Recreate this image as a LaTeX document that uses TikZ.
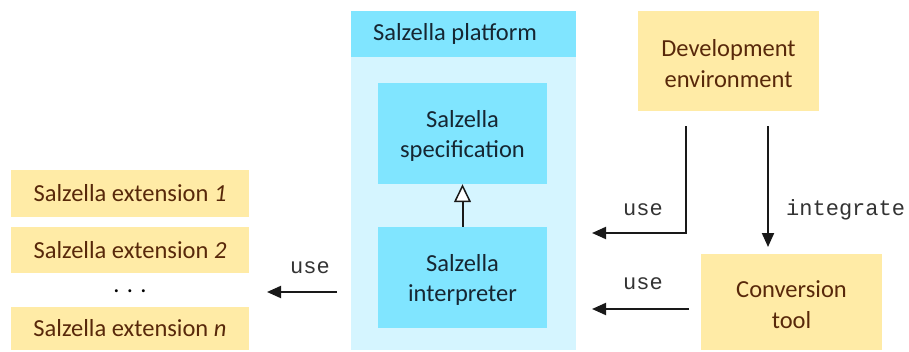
\documentclass[tikz,border=0pt]{standalone}
\usepackage{fontspec}
\setmainfont{Carlito}
\setmonofont{Liberation Mono}
\usetikzlibrary{arrows.meta,calc}
\definecolor{sandfill}{RGB}{255,235,166}
\definecolor{sandtext}{RGB}{88,40,10}
\definecolor{cyanhead}{RGB}{128,229,255}
\definecolor{cyanbody}{RGB}{213,245,255}
\definecolor{cyantext}{RGB}{22,38,50}
\tikzset{
  sandbox/.style={rectangle, fill=sandfill, text=sandtext, inner sep=0pt,
    align=center, font=\fontsize{24.5}{27}\selectfont},
  cyanbox/.style={rectangle, fill=cyanhead, text=cyantext, inner sep=0pt,
    align=center, font=\fontsize{24.5}{30}\selectfont},
  % two-line captions set slightly below the box centre
  sandcap/.style={label={[align=center, inner sep=0pt, yshift=-2.5pt, text=sandtext,
    font=\fontsize{24.5}{31}\selectfont]center:#1}},
  cyancap/.style={label={[align=center, inner sep=0pt, yshift=-2.5pt, text=cyantext,
    font=\fontsize{24.5}{30.5}\selectfont]center:#1}},
  lbl/.style={font=\ttfamily\fontsize{22}{24}\selectfont, text=black!80, inner sep=0pt},
  flow/.style={draw=black!90, line width=2pt, -{Triangle[length=14pt,width=12pt]}},
  inherit/.style={draw=black!90, line width=2pt, -{Triangle[open,length=18pt,width=17pt,fill=white,line width=1.5pt]}},
}
\begin{document}
\begin{tikzpicture}[x=1pt,y=-1pt]
\useasboundingbox (0,0) rectangle (909,351);

% platform container with its header band
\fill[cyanbody] (351,11) rectangle (576,350);
\fill[cyanhead] (351,11) rectangle (576,57);
\node[text=cyantext, font=\fontsize{24.5}{27}\selectfont, inner sep=0pt] (plathead) at (455,34) {Salzella platform};

\node[cyanbox, minimum width=169pt, minimum height=101pt, cyancap={Salzella\\specification}] (spec) at (462.5,133.5) {};
\node[cyanbox, minimum width=169pt, minimum height=101pt, cyancap={Salzella\\interpreter}] (interp) at (462.5,277.5) {};

% tools on the right
\node[sandbox, minimum width=181pt, minimum height=100pt, sandcap={Development\\environment}] (dev) at (728.5,61) {};
\node[sandbox, minimum width=181pt, minimum height=96pt, sandcap={Conversion\\tool}] (conv) at (791.5,302) {};

% extensions on the left
\node[sandbox, minimum width=238pt, minimum height=47pt] (ext1) at (130,193.5) {Salzella extension \textit{1}};
\node[sandbox, minimum width=238pt, minimum height=46pt] (ext2) at (130,250) {Salzella extension \textit{2}};
\node[sandbox, minimum width=238pt, minimum height=43pt] (extn) at (130,328.5) {Salzella extension \textit{n}};
\node[font=\fontsize{24.5}{27}\selectfont, inner sep=0pt] (dots) at (130,291) {. . .};

% connector end points
\coordinate (devuse) at (686,126);
\coordinate (devint) at (768,126);
\coordinate (platin1) at (592,233);
\coordinate (convint) at (768,247);
\coordinate (convout) at (689,309);
\coordinate (platin2) at (592,309);
\coordinate (platout) at (337,292);
\coordinate (extin) at (267,292);

\draw[inherit] (interp.north) -- (spec.south);
\draw[flow] (devuse) |- (platin1);
\draw[flow] (devint) -- (convint);
\draw[flow] (convout) -- (platin2);
\draw[flow] (platout) -- (extin);

\node[lbl] (use1) at (643,210) {use};
\node[lbl, anchor=west] (integ) at (786,210) {integrate};
\node[lbl] (use2) at (643,284) {use};
\node[lbl] (use3) at (310,268) {use};
\end{tikzpicture}
\end{document}
